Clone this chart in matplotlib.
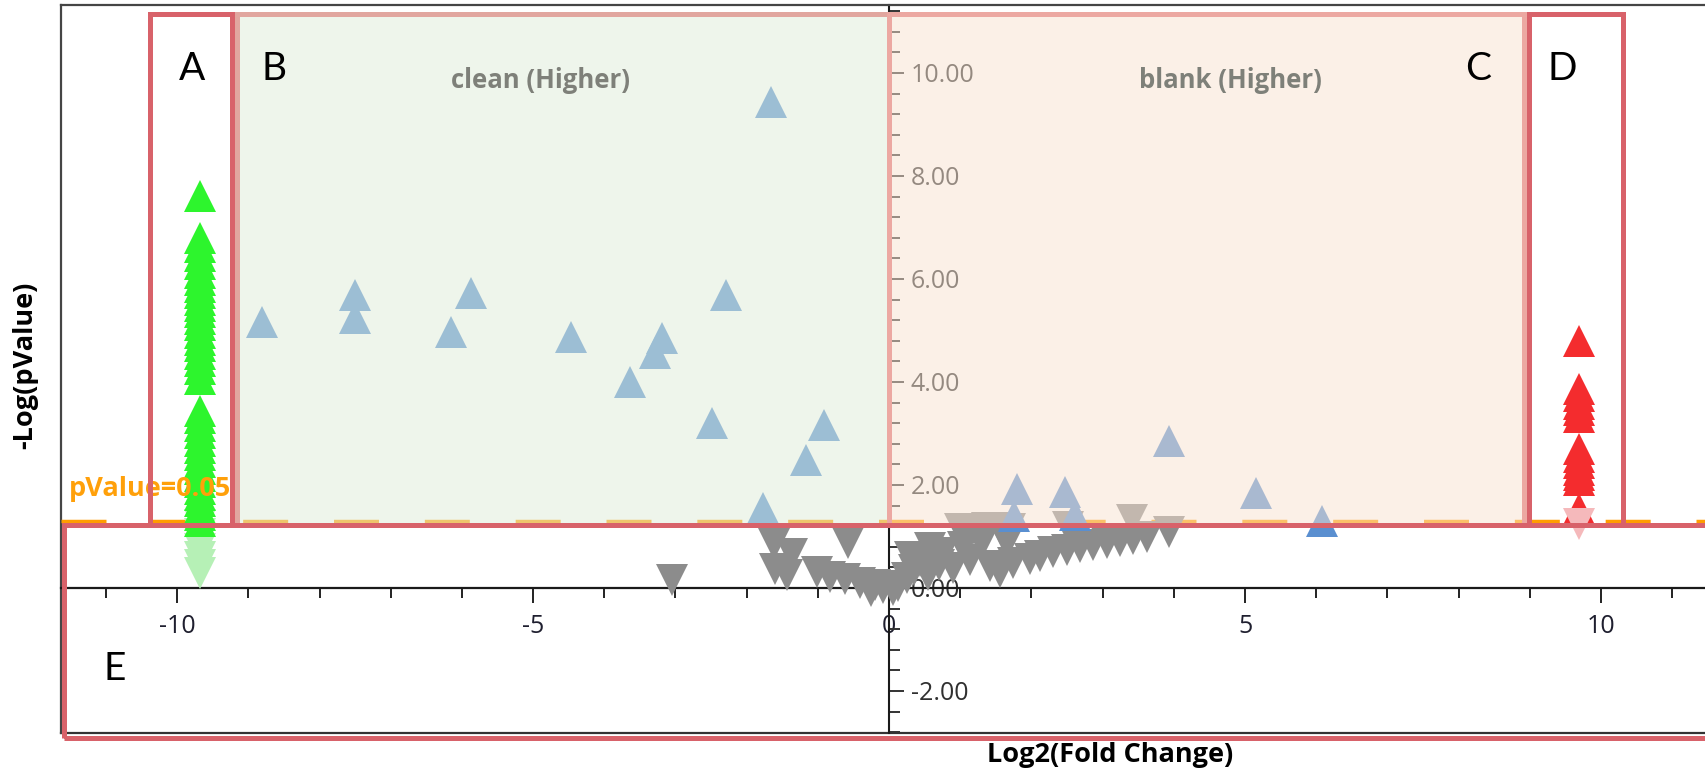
import numpy as np
import matplotlib
matplotlib.use("Agg")
import matplotlib.pyplot as plt
from matplotlib.patches import Rectangle
from matplotlib.ticker import MultipleLocator, FormatStrFormatter

plt.rcParams['font.family'] = ['Open Sans', 'DejaVu Sans']
plt.rcParams['axes.unicode_minus'] = False

# clean only (far left column) - significant and not
green_x = -9.68
green_y = [7.61, 6.80, 6.62, 6.45, 6.30, 6.12, 5.98, 5.85, 5.72, 5.60, 5.48,
           5.35, 5.22, 5.10, 4.95, 4.82, 4.70, 4.55, 4.40, 4.25, 4.06, 3.44,
           3.30, 3.15, 3.00, 2.86, 2.72, 2.58, 2.45, 2.32, 2.18, 2.05, 1.92,
           1.80, 1.68, 1.55, 1.42, 1.30]
green_ns_y = [1.22, 1.05, 0.90, 0.75, 0.60, 0.45, 0.30]

# blank only (far right column)
red_x = 9.69
red_y = [4.80, 3.86, 3.72, 3.58, 3.45, 3.32, 2.70, 2.55, 2.42, 2.30, 2.20,
         2.10, 1.53]
red_ns_y = [1.24]

# significant, found in both
blue_x = [-8.81, -7.50, -7.50, -5.87, -6.16, -4.47, -3.19, -3.29, -3.64,
          -2.49, -2.29, -1.66, -0.91, -1.17, -1.77,
          3.93, 1.80, 2.47, 2.61, 1.75, 5.15, 6.08]
blue_y = [5.17, 5.69, 5.24, 5.73, 4.97, 4.87, 4.85, 4.56, 4.00,
          3.20, 5.69, 9.44, 3.16, 2.49, 1.55,
          2.85, 1.92, 1.87, 1.42, 1.40, 1.84, 1.30]

# not significant
grey_x = [-3.05, -1.62, -1.36, -1.60, -1.43, -0.58, -1.01, -0.83, -0.62,
          -0.41, -0.20, -0.08, -0.25, 0.05, 0.12, 0.25, 0.35, 0.55, 0.30,
          0.44, 0.58, 0.70, 0.76, 0.90, 1.04, 1.14, 1.31, 1.42, 1.56, 1.66,
          1.74, 1.98, 2.12, 2.30, 2.50, 2.68, 2.87, 3.06, 3.24, 3.43, 3.62,
          3.93, 1.00, 1.18, 1.37, 1.56, 1.70, 2.52, 3.41, 1.66]
grey_y = [0.16, 0.85, 0.66, 0.37, 0.25, 0.87, 0.31, 0.21, 0.17,
          0.10, 0.06, 0.00, -0.06, -0.04, 0.03, 0.19, 0.35, 0.25, 0.60,
          0.52, 0.78, 0.45, 0.68, 0.39, 0.80, 0.54, 0.87, 0.43, 0.31, 0.87,
          0.49, 0.56, 0.62, 0.70, 0.74, 0.80, 0.84, 0.87, 0.91, 0.95, 0.99,
          1.09, 1.15, 1.15, 1.16, 1.17, 1.15, 1.18, 1.32, 1.03]

p_cut = 0.05
thr = -np.log10(p_cut)

fig = plt.figure(figsize=(17.06, 7.69), dpi=100)
ax = fig.add_axes([0.0358, 0.0468, 0.9642, 0.9467])
ax.set_xlim(-11.63, 11.475)
ax.set_ylim(-2.816, 11.32)

ms = 23
ax.plot(grey_x, grey_y, ls='none', marker='v', ms=ms, mew=0, color='#8c8c8c', zorder=3)
ax.plot([green_x] * len(green_ns_y), green_ns_y, ls='none', marker='v', ms=ms, mew=0,
        color='#b6f0b6', zorder=3)
ax.plot([red_x] * len(red_ns_y), red_ns_y, ls='none', marker='v', ms=ms, mew=0,
        color='#f5b9bb', zorder=3.1)
ax.plot(blue_x, blue_y, ls='none', marker='^', ms=ms, mew=0, color='#5a8fd0', zorder=3)
ax.plot([green_x] * len(green_y), green_y, ls='none', marker='^', ms=ms, mew=0,
        color='#2df52d', zorder=3)
ax.plot([red_x] * len(red_y), red_y, ls='none', marker='^', ms=ms, mew=0,
        color='#f42c2e', zorder=3)

# axes through the origin
ax.spines['bottom'].set_position(('data', 0))
ax.spines['right'].set_position(('data', 0))
ax.spines['bottom'].set_color('#1a1a1a')
ax.spines['bottom'].set_linewidth(1.6)
ax.spines['right'].set_color('#1a1a1a')
ax.spines['right'].set_linewidth(1.5)
for s in ['left', 'top']:
    ax.spines[s].set_color('#454545')
    ax.spines[s].set_linewidth(1.6)
ax.plot([0, 1], [0, 0], transform=ax.transAxes, color='#333333', lw=1.6,
        clip_on=False, zorder=2.5)

ax.xaxis.set_ticks_position('bottom')
ax.yaxis.set_ticks_position('right')
ax.xaxis.set_major_locator(MultipleLocator(5))
ax.xaxis.set_minor_locator(MultipleLocator(1))
ax.yaxis.set_major_locator(MultipleLocator(2))
ax.yaxis.set_minor_locator(MultipleLocator(0.4))
ax.yaxis.set_major_formatter(FormatStrFormatter('%.2f'))
ax.tick_params(axis='x', which='major', direction='out', length=10.8, width=1.4,
               color='#222222', labelsize=18, labelcolor='#1f1f2f', pad=8)
ax.tick_params(axis='x', which='minor', direction='out', length=7.2, width=1.4,
               color='#222222')
ax.tick_params(axis='y', which='major', direction='out', length=10.8, width=1.4,
               color='#333333', labelsize=18, labelcolor='#303030', pad=5)
ax.tick_params(axis='y', which='minor', direction='out', length=8, width=1.4,
               color='#333333')

ax.set_xlabel('Log2(Fold Change)', fontsize=19.5, fontweight='bold')
ax.xaxis.set_label_coords(0.638, -0.030)
ax.xaxis.label.set_va('center')
ax.yaxis.set_label_position('left')
ax.set_ylabel('-Log(pValue)', fontsize=19.5, fontweight='bold')
ax.yaxis.set_label_coords(-0.0219, 0.505)
ax.yaxis.label.set_va('center')

# threshold
ax.axhline(thr, color='#ff9d00', lw=2.5, ls=(0, (12.96, 13.2)), zorder=2.6)
ax.text(-11.52, 1.79, 'pValue=%.2f' % p_cut, color='#ffa00a', fontsize=19.5,
        fontweight='bold', va='baseline', ha='left', zorder=3.5)

# shaded halves
ax.add_patch(Rectangle((-9.16, 1.22), 9.16, 9.93, fc=(223/255, 237/255, 217/255),
                       ec='none', alpha=0.5, zorder=4))
ax.add_patch(Rectangle((0, 1.22), 8.92, 9.93, fc=(249/255, 227/255, 209/255),
                       ec='none', alpha=0.5, zorder=4))
ax.text(-4.89, 9.86, 'clean (Higher)', color='#7e8079', fontsize=18.5,
        fontweight='bold', ha='center', va='center', zorder=6)
ax.text(4.80, 9.86, 'blank (Higher)', color='#7e8079', fontsize=18.5,
        fontweight='bold', ha='center', va='center', zorder=6)

# annotation boxes
red = '#d8626a'
boxes = [((-10.38, 1.22), 1.15, 9.93, red),
         ((-9.16, 1.22), 9.16, 9.93, '#e1a69f'),
         ((0, 1.22), 8.92, 9.93, '#eca8a2'),
         ((8.99, 1.22), 1.32, 9.93, red),
         ((-11.59, -2.91), 24.0, 4.13, red)]
for xy, w, h, c in boxes:
    ax.add_patch(Rectangle(xy, w, h, fill=False, ec=c, lw=3.6, zorder=5,
                           clip_on=False))

letters = ['A', 'B', 'C', 'D', 'E']
letter_x = [-9.79, -8.64, 8.27, 9.45, -10.87]
letter_y = [10.08, 10.08, 10.08, 10.08, -1.57]
for t, lx, ly in zip(letters, letter_x, letter_y):
    ax.text(lx, ly, t, family=['Lato', 'DejaVu Sans'], fontsize=28, color='black',
            ha='center', va='center', zorder=6)

fig.savefig('out.png', dpi=100)
